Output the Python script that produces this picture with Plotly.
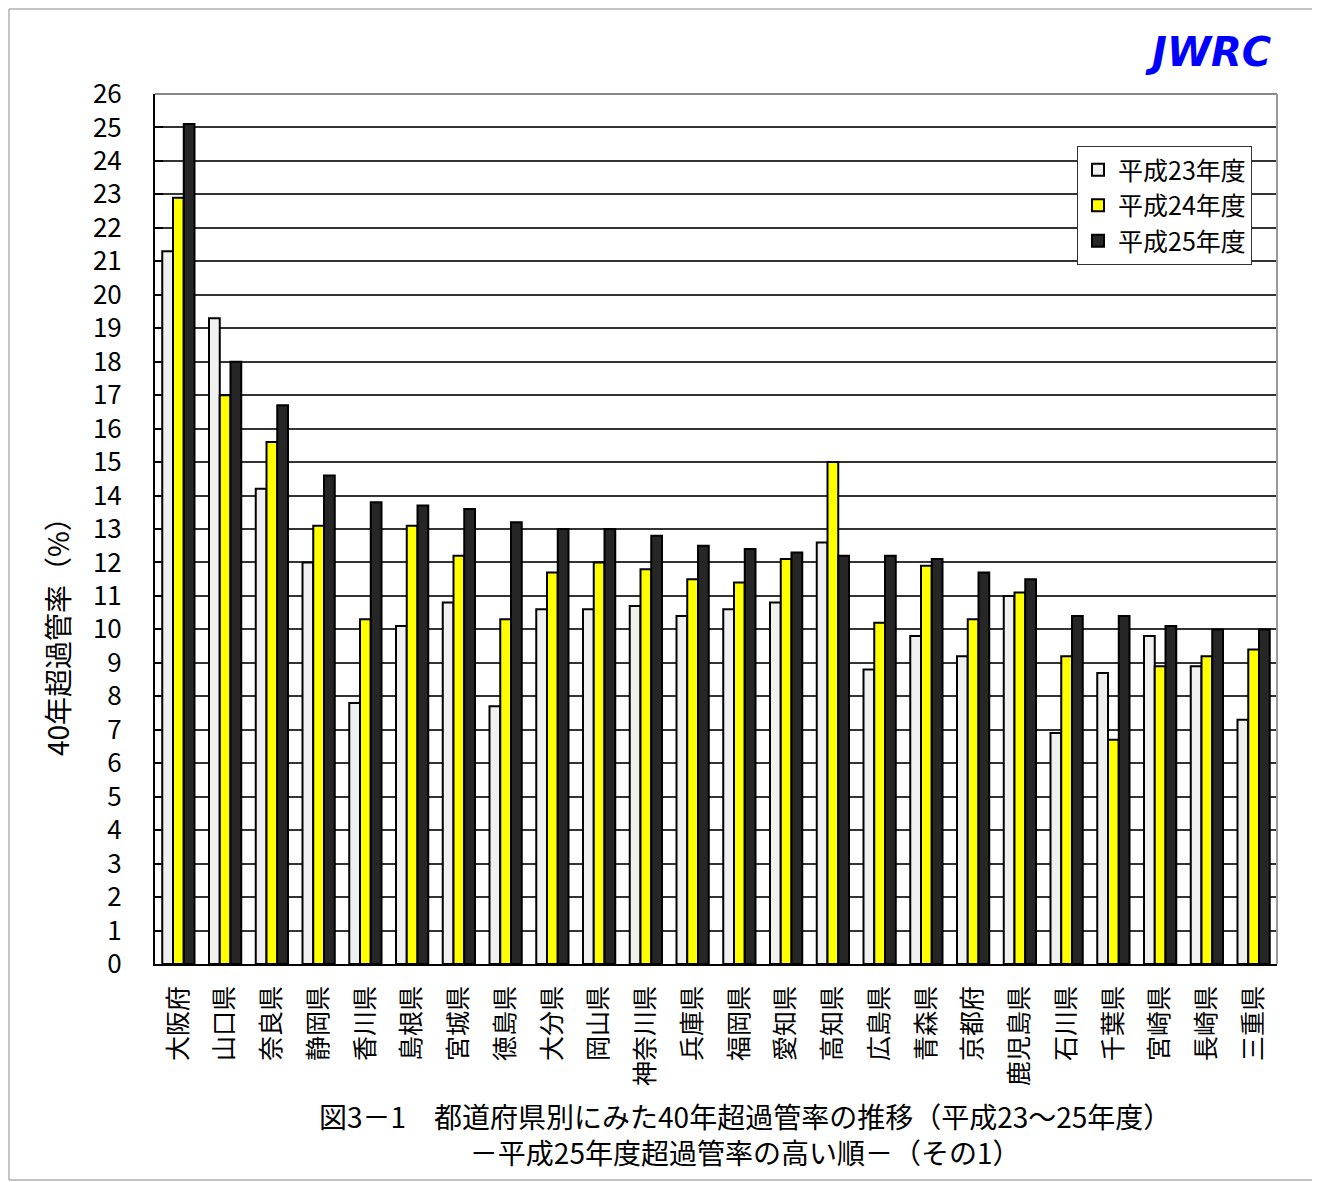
import plotly.graph_objects as go

prefectures = ["大阪府", "山口県", "奈良県", "静岡県", "香川県", "島根県", "宮城県", "徳島県",
               "大分県", "岡山県", "神奈川県", "兵庫県", "福岡県", "愛知県", "高知県", "広島県",
               "青森県", "京都府", "鹿児島県", "石川県", "千葉県", "宮崎県", "長崎県", "三重県"]

h23 = [21.3, 19.3, 14.2, 12.0, 7.8, 10.1, 10.8, 7.7, 10.6, 10.6, 10.7, 10.4,
       10.6, 10.8, 12.6, 8.8, 9.8, 9.2, 11.0, 6.9, 8.7, 9.8, 8.9, 7.3]
h24 = [22.9, 17.0, 15.6, 13.1, 10.3, 13.1, 12.2, 10.3, 11.7, 12.0, 11.8, 11.5,
       11.4, 12.1, 15.0, 10.2, 11.9, 10.3, 11.1, 9.2, 6.7, 8.9, 9.2, 9.4]
h25 = [25.1, 18.0, 16.7, 14.6, 13.8, 13.7, 13.6, 13.2, 13.0, 13.0, 12.8, 12.5,
       12.4, 12.3, 12.2, 12.2, 12.1, 11.7, 11.5, 10.4, 10.4, 10.1, 10.0, 10.0]

series_names = ["平成23年度", "平成24年度", "平成25年度"]
y_ticks = list(range(0, 27))

FONT = "Noto Sans CJK JP"

# plot area on screen: x 155..1277, y 94..964 (page has an 8px body offset)
PX0, PW, PY0, PH = 155, 1122, 964, 870


def px(x):
    return (x - PX0) / PW


def py(y):
    return (PY0 - y) / PH


fig = go.Figure()
for name, vals, color in zip(series_names, [h23, h24, h25], ["#F0F0F0", "#FFFF00", "#262626"]):
    fig.add_trace(go.Bar(
        x=prefectures, y=vals, name=name,
        marker=dict(color=color, line=dict(color="#000000", width=2)),
    ))

fig.update_layout(
    width=1320, height=1182,
    paper_bgcolor="white", plot_bgcolor="white",
    margin=dict(l=147, r=51, t=86, b=226),
    barmode="group", bargap=0.31, bargroupgap=0,
    font=dict(family=FONT, color="black"),
    showlegend=True,
    legend=dict(
        x=px(1252), xanchor="right", y=py(146), yanchor="top",
        bgcolor="white", bordercolor="#333333", borderwidth=1,
        font=dict(size=25, family=FONT, color="black"),
        itemwidth=30, tracegroupgap=0,
    ),
    xaxis=dict(
        tickangle=-90, tickfont=dict(size=25, family=FONT, color="black"),
        showline=True, linecolor="black", linewidth=2, mirror=False,
        ticks="", showgrid=False, ticklabelstandoff=10,
    ),
    yaxis=dict(
        range=[0, 26], tickvals=y_ticks, ticktext=[str(v) for v in y_ticks],
        tickfont=dict(size=26, family=FONT, color="black"),
        showline=True, linecolor="black", linewidth=2,
        ticks="inside", ticklen=8, tickcolor="black", tickwidth=1.5,
        showgrid=True, gridcolor="#333333", gridwidth=1.5,
        ticklabelstandoff=26, zeroline=False,
    ),
    shapes=[
        dict(type="line", xref="paper", yref="paper", x0=0, x1=1, y0=1, y1=1,
             line=dict(color="#888888", width=2)),
        dict(type="line", xref="paper", yref="paper", x0=1, x1=1, y0=0, y1=1,
             line=dict(color="#999999", width=2)),
        dict(type="rect", xref="paper", yref="paper",
             x0=px(9), x1=px(1313), y0=py(1180), y1=py(9),
             line=dict(color="#888888", width=1)),
    ],
    annotations=[
        dict(text="40年超過管率（%）", textangle=-90, xref="paper", yref="paper",
             x=px(57), y=py(630), xanchor="center", yanchor="middle", showarrow=False,
             font=dict(size=28, family=FONT, color="black")),
        dict(text="図3－1　都道府県別にみた40年超過管率の推移（平成23～25年度）<br>"
                  "－平成25年度超過管率の高い順－（その1）",
             xref="paper", yref="paper", x=px(745), y=py(1134),
             xanchor="center", yanchor="middle", align="center",
             showarrow=False, font=dict(size=28, family=FONT, color="black")),
        dict(text="<b><i>JWRC</i></b>", xref="paper", yref="paper",
             x=px(1208), y=py(52), xanchor="center", yanchor="middle", showarrow=False,
             font=dict(size=40, family="DejaVu Sans", color="#0000FF")),
    ],
)

fig.write_html("out.html")
